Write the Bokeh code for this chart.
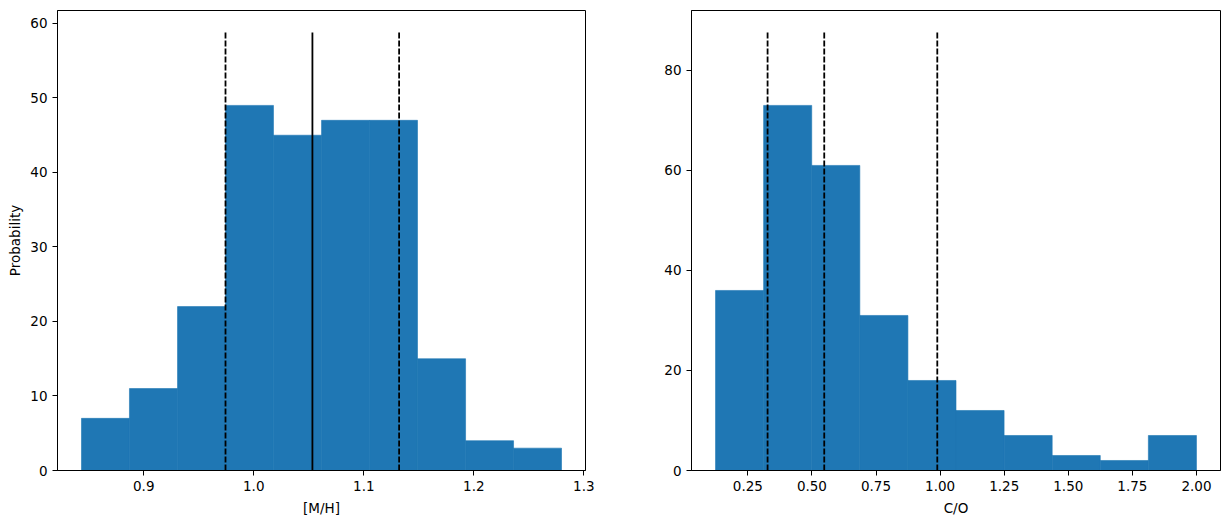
from bokeh.plotting import figure
from bokeh.layouts import row
from bokeh.models import Range1d, FixedTicker, NumeralTickFormatter
from bokeh.embed import file_html
from bokeh.resources import INLINE

# ---- data: [M/H] histogram ----
mh_edges = [0.8434, 0.8870, 0.9307, 0.9743, 1.0179, 1.0616, 1.1052, 1.1488, 1.1925, 1.2361, 1.2797]
mh_counts = [7, 11, 22, 49, 45, 47, 47, 15, 4, 3]
mh_dashed = [0.9743, 1.1321]
mh_solid = [1.0533]
mh_line_top = 58.8
mh_xticks = [0.9, 1.0, 1.1, 1.2, 1.3]
mh_yticks = [0, 10, 20, 30, 40, 50, 60]

# ---- data: C/O histogram ----
co_edges = [0.124, 0.3116, 0.4992, 0.6868, 0.8744, 1.062, 1.2496, 1.4372, 1.6248, 1.8124, 2.0]
co_counts = [36, 73, 61, 31, 18, 12, 7, 3, 2, 7]
co_dashed = [0.327, 0.548, 0.989]
co_line_top = 87.6
co_xticks = [0.25, 0.5, 0.75, 1.0, 1.25, 1.5, 1.75, 2.0]
co_yticks = [0, 20, 40, 60, 80]

BAR = "#1f77b4"
FONT = "DejaVu Sans"
FS = "13.5px"
DASH = "6 2"
LW = 1.8


def style(p, xticks, yticks, xfmt):
    p.xgrid.visible = False
    p.ygrid.visible = False
    p.outline_line_color = "black"
    p.outline_line_width = 1
    p.outline_line_alpha = 1
    for ax in (p.xaxis[0], p.yaxis[0]):
        ax.major_tick_out = 5
        ax.major_tick_in = 0
        ax.minor_tick_out = 0
        ax.minor_tick_in = 0
        ax.axis_line_color = "black"
        ax.major_tick_line_color = "black"
        ax.major_label_text_font = FONT
        ax.major_label_text_font_size = FS
        ax.major_label_text_color = "black"
        ax.axis_label_text_font = FONT
        ax.axis_label_text_font_size = FS
        ax.axis_label_text_font_style = "normal"
        ax.axis_label_text_color = "black"
        ax.major_label_standoff = 5
    p.xaxis[0].ticker = FixedTicker(ticks=xticks)
    p.yaxis[0].ticker = FixedTicker(ticks=yticks)
    p.xaxis[0].formatter = NumeralTickFormatter(format=xfmt)
    p.xaxis[0].axis_label_standoff = 6
    p.yaxis[0].axis_label_standoff = 4


def hist(edges, counts, xr, yr, w, bl, br):
    p = figure(width=w, height=525, output_backend="svg", toolbar_location=None,
               x_range=Range1d(*xr), y_range=Range1d(*yr),
               min_border_left=bl, min_border_right=br,
               min_border_top=10, min_border_bottom=55)
    p.quad(left=edges[:-1], right=edges[1:], top=counts, bottom=[0] * len(counts),
           fill_color=BAR, line_color=BAR, line_width=0.6)
    return p


p1 = hist(mh_edges, mh_counts, (0.8216, 1.3015), (0, 61.74), 638, 57, 53)
p1.segment(x0=mh_dashed, x1=mh_dashed, y0=[0] * len(mh_dashed), y1=[mh_line_top] * len(mh_dashed),
           line_color="black", line_width=LW, line_dash=DASH)
p1.segment(x0=mh_solid, x1=mh_solid, y0=[0], y1=[mh_line_top], line_color="black", line_width=LW)
p1.xaxis.axis_label = "[M/H]"
p1.yaxis.axis_label = "Probability"
style(p1, mh_xticks, mh_yticks, "0.0")

p2 = hist(co_edges, co_counts, (0.0302, 2.0938), (0, 91.98), 591, 53, 9)
p2.segment(x0=co_dashed, x1=co_dashed, y0=[0] * len(co_dashed), y1=[co_line_top] * len(co_dashed),
           line_color="black", line_width=LW, line_dash=DASH)
p2.xaxis.axis_label = "C/O"
style(p2, co_xticks, co_yticks, "0.00")

layout = row(p1, p2)
open("out.html", "w").write(file_html(layout, INLINE))
